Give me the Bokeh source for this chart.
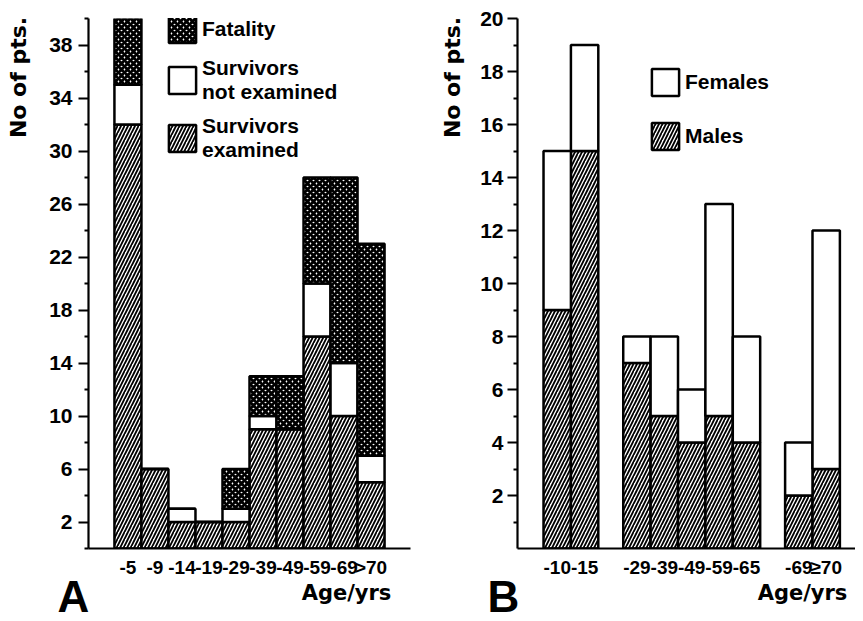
import math
from bokeh.plotting import figure
from bokeh.models import (FactorRange, Range1d, FixedTicker, Legend, LegendItem,
                          Label, ColumnDataSource)
from bokeh.layouts import row, column
from bokeh.embed import file_html
from bokeh.resources import INLINE

# ---------------- data: panel A ----------------
a_ages = ["-5", "-9", "-14", "-19", "-29", "-39", "-49", "-59", "-69", ">70"]
a_examined = [32, 6, 2, 2, 2, 9, 9, 16, 10, 5]
a_not_examined = [3, 0, 1, 0, 1, 1, 0, 4, 4, 2]
a_fatality = [5, 0, 0, 0, 3, 3, 4, 8, 14, 16]
a_series = ["Survivors\nexamined", "Survivors\nnot examined", "Fatality"]
a_yticks = [2, 6, 10, 14, 18, 22, 26, 30, 34, 38]
a_yminor = [0, 4, 8, 12, 16, 20, 24, 28, 32, 36, 40]

# ---------------- data: panel B ----------------
b_groups = [["-10", "-15"], ["-29", "-39", "-49", "-59", "-65"], ["-69", "≥70"]]
b_males = [9, 15, 7, 5, 4, 5, 4, 2, 3]
b_females = [6, 4, 1, 3, 2, 8, 4, 2, 9]
b_series = ["Males", "Females"]
b_yticks = [2, 4, 6, 8, 10, 12, 14, 16, 18, 20]
b_yminor = [1, 3, 5, 7, 9, 11, 13, 15, 17, 19]

FONT = "Liberation Sans"
FONT2 = "DejaVu Sans"
HATCH_LINES = "right_diagonal_line"
HATCH_CROSS = "diagonal_cross"
MAIN_H = 580
STRIP_H = 33
TOP, BOTTOM = 18, 27          # borders shared by every plot of the top row
FRAME_BOTTOM = MAIN_H - BOTTOM


def style_axes(p, tick_out, standoff):
    for ax in (p.xaxis[0], p.yaxis[0]):
        ax.axis_line_width = 2.2
        ax.axis_line_color = "black"
        ax.major_label_text_font = FONT
        ax.major_label_text_font_style = "bold"
        ax.major_label_text_color = "black"
    xa, ya = p.xaxis[0], p.yaxis[0]
    xa.major_tick_line_color = None
    xa.minor_tick_line_color = None
    xa.major_label_text_font_size = "19px"
    xa.major_label_standoff = 2
    ya.major_tick_out = tick_out
    ya.major_tick_in = 0
    ya.minor_tick_out = 4
    ya.minor_tick_in = 0
    ya.major_tick_line_width = 2
    ya.minor_tick_line_width = 2
    ya.major_tick_line_color = "black"
    ya.minor_tick_line_color = "black"
    ya.major_label_text_font_size = "21px"
    ya.major_label_standoff = standoff
    p.xgrid.visible = False
    p.ygrid.visible = False
    p.outline_line_color = None


def style_legend(legend):
    legend.glyph_width = 34
    legend.glyph_height = 34
    legend.label_standoff = 3
    legend.padding = 0
    legend.margin = 0
    legend.border_line_color = None
    legend.background_fill_alpha = 0
    legend.label_text_font = FONT
    legend.label_text_font_style = "bold"
    legend.label_text_font_size = "21px"
    legend.label_text_line_height = 0.95
    legend.label_text_color = "black"


TXT = dict(x_units="screen", y_units="screen", text_font_style="bold",
           text_color="black", text_align="center", text_baseline="middle")


def ylabel_strip(width, cx, cy):
    s = figure(width=width, height=MAIN_H, x_axis_type=None, y_axis_type=None,
               x_range=Range1d(0, 1), y_range=Range1d(0, 1), title=None,
               toolbar_location=None, output_backend="svg",
               min_border_left=0, min_border_right=0,
               min_border_top=TOP, min_border_bottom=BOTTOM)
    s.outline_line_color = None
    s.add_layout(Label(x=cx, y=FRAME_BOTTOM - cy, text="No of pts.",
                       angle=math.pi / 2, text_font=FONT2,
                       text_font_size="22px", **TXT))
    return s


def xlabel_strip(width, letter, letter_cx, age_cx):
    s = figure(width=width, height=STRIP_H, x_axis_type=None, y_axis_type=None,
               x_range=Range1d(0, 1), y_range=Range1d(0, 1), title=None,
               toolbar_location=None, output_backend="svg", min_border=0)
    s.outline_line_color = None
    s.add_layout(Label(x=letter_cx, y=17, text=letter, text_font=FONT,
                       text_font_size="44px", **TXT))
    s.add_layout(Label(x=age_cx, y=21, text="Age/yrs", text_font=FONT2,
                       text_font_size="21px", **TXT))
    return s


# ---------------- panel A ----------------
srcA = ColumnDataSource(dict(age=a_ages, examined=a_examined,
                             not_examined=a_not_examined, fatality=a_fatality))
pA = figure(width=402, height=MAIN_H,
            x_range=FactorRange(factors=a_ages, range_padding=0.96,
                                range_padding_units="absolute"),
            y_range=Range1d(0, 40),
            output_backend="svg", toolbar_location=None,
            min_border_left=54, min_border_right=26,
            min_border_top=TOP, min_border_bottom=BOTTOM)
rA = pA.vbar_stack(["examined", "not_examined", "fatality"], x="age", width=1.0,
                   source=srcA, fill_color="white", line_color="black",
                   line_width=2.5, hatch_color="black",
                   hatch_pattern=[HATCH_LINES, "blank", HATCH_CROSS],
                   hatch_scale=[7, 6, 6], hatch_weight=[1.8, 1, 3])
pA.yaxis.ticker = FixedTicker(ticks=a_yticks, minor_ticks=a_yminor)
style_axes(pA, 10, 6)
legA = Legend(items=[LegendItem(label=a_series[2], renderers=[rA[2]]),
                     LegendItem(label=a_series[1], renderers=[rA[1]]),
                     LegendItem(label=a_series[0], renderers=[rA[0]])],
              location=(77, 386), spacing=10)
style_legend(legA)
pA.add_layout(legA)

# ---------------- panel B ----------------
pad_left, gap = 0.95, 0.91
b_ages, b_x = [], []
pos = pad_left + 0.5
for gi, grp in enumerate(b_groups):
    if gi > 0:
        pos += gap
    for lab in grp:
        b_ages.append(lab)
        b_x.append(pos)
        pos += 1.0
srcB = ColumnDataSource(dict(x=b_x, age=b_ages, males=b_males, females=b_females))
pB = figure(width=389, height=MAIN_H,
            x_range=Range1d(0, 12.34), y_range=Range1d(0, 20),
            output_backend="svg", toolbar_location=None,
            min_border_left=51, min_border_right=0,
            min_border_top=TOP, min_border_bottom=BOTTOM)
rB = pB.vbar_stack(["males", "females"], x="x", width=1.0, source=srcB,
                   fill_color="white", line_color="black", line_width=2.5,
                   hatch_color="black", hatch_pattern=[HATCH_LINES, "blank"],
                   hatch_scale=[7, 6], hatch_weight=[1.8, 1])
pB.xaxis.ticker = FixedTicker(ticks=b_x)
pB.xaxis.major_label_overrides = {x: lab for x, lab in zip(b_x, b_ages)}
pB.yaxis.ticker = FixedTicker(ticks=b_yticks, minor_ticks=b_yminor)
style_axes(pB, 10, 4)
legB = Legend(items=[LegendItem(label=b_series[1], renderers=[rB[1]]),
                     LegendItem(label=b_series[0], renderers=[rB[0]])],
              location=(131, 395), spacing=20)
style_legend(legB)
pB.add_layout(legB)

colA = column(row(ylabel_strip(34, 18, 82), pA), xlabel_strip(436, "A", 73, 346))
colB = column(row(ylabel_strip(30, 16, 82), pB), xlabel_strip(419, "B", 67, 366))
layout = row(colA, colB)
open("out.html", "w").write(file_html(layout, INLINE))
